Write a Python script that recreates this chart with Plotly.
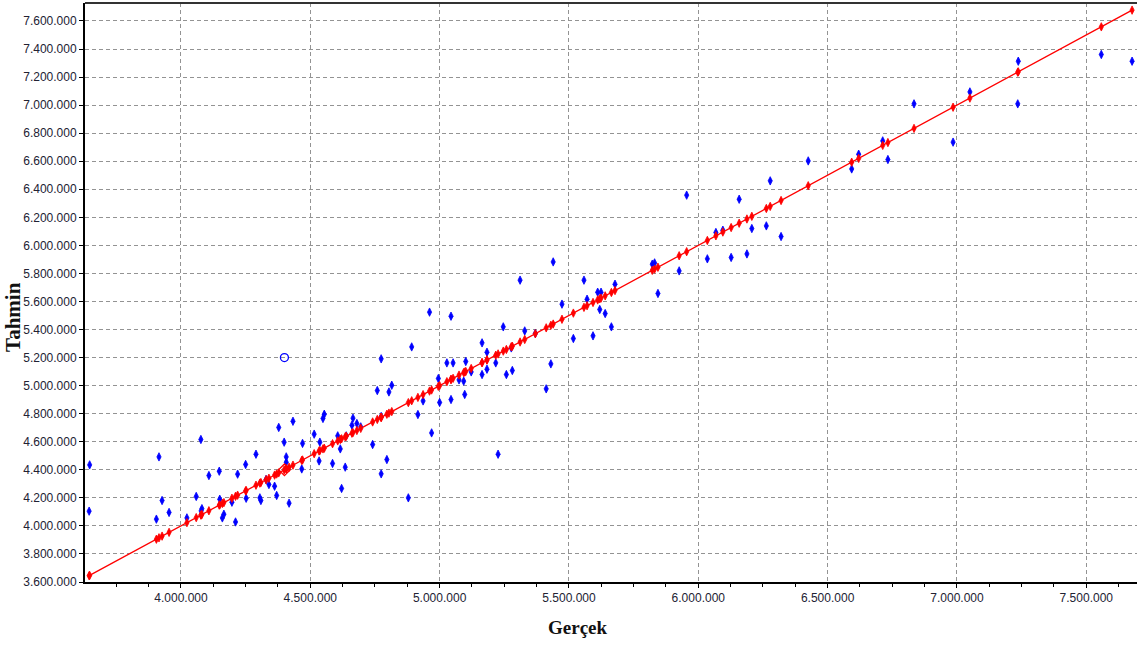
import plotly.graph_objects as go

# Gerçek (actual) and Tahmin (predicted) values, in thousands
gercek_bin = [
    3647, 3645, 3915, 3927, 3905, 3954, 4077, 4023, 4059, 4078,
    4081, 4108, 4148, 4150, 4160, 4166, 4197, 4211, 4219, 4250,
    4252, 4290, 4305, 4309, 4329, 4340, 4362, 4370, 4378, 4399,
    4407, 4407, 4418, 4433, 4467, 4470, 4515, 4534, 4537, 4549,
    4554,
    4586, 4606, 4616, 4635, 4621, 4639, 4665, 4661, 4680, 4695,
    4741, 4759, 4774, 4774, 4774, 4796, 4804, 4815, 4879, 4892,
    4916, 4936, 4961, 4969, 4995, 5000, 5028, 5044, 5052, 5044,
    5075, 5093, 5097, 5101, 5122, 5164, 5164, 5183, 5183, 5217,
    5226, 5246, 5258, 5281, 5277, 5329, 5370, 5412,
    5311, 5430, 5439, 5473, 5517, 5558, 5570, 5593, 5611, 5624,
    5619, 5640, 5664, 5678, 5822, 5831, 5844, 5926,
    5955, 6035, 6068, 6095, 6127, 6158, 6188, 6207, 6263, 6278,
    6320, 6425, 6593, 6620, 6713, 6733,
    6834, 6985, 7050, 7237, 7235, 7558, 7677,
]
tahmin_bin = [
    4435, 4105, 4492, 4181, 4048, 4096, 4616, 4057, 4210, 4107,
    4123, 4359, 4390, 4190, 4057, 4083, 4169, 4028, 4369, 4438,
    4197, 4511, 4200, 4181, 4331, 4295, 4283, 4217, 4702, 4597,
    4492, 4454, 4162, 4746, 4406, 4588, 4654, 4463, 4597, 4766,
    4796,
    4445, 4642, 4549, 4419, 4267, 4642, 4768, 4718, 4730, 4706,
    4580, 4965, 5191, 4780, 4371, 4473, 4955, 5003, 4200, 5276,
    4794, 4891, 5524, 4663, 5051, 4880, 5162, 5495, 5162, 4901,
    5041, 5032, 4937, 5172, 5098, 5305, 5079, 5238, 5117, 5162,
    4511, 5419, 5079, 5108, 5269, 5390, 5372, 4977,
    5752, 5155, 5882, 5581, 5336, 5752, 5616, 5355, 5666, 5666,
    5543, 5514, 5419, 5723, 5866, 5875, 5657, 5818,
    6358, 5904, 6092, 6108, 5914, 6329, 5939, 6120, 6139, 6460,
    6063, 6602, 6545, 6650, 6745, 6612,
    7009, 6736, 7094, 7313, 7009, 7361, 7313,
]

# highlighted observation
secili_gercek = 4400000
secili_tahmin = 5200000

gercek = [v * 1000 for v in gercek_bin]
tahmin = [v * 1000 for v in tahmin_bin]
ideal = sorted(gercek)

x_range = [3629000, 7696000]
y_range = [3600000, 7728000]

fig = go.Figure()

fig.add_trace(go.Scatter(
    x=gercek, y=tahmin, mode="markers",
    marker=dict(symbol="diamond-tall", size=6, color="#0000ff",
                line=dict(width=0.8, color="#0000ff")),
    showlegend=False, hoverinfo="x+y",
))

fig.add_trace(go.Scatter(
    x=ideal, y=ideal, mode="lines+markers",
    line=dict(color="#ff0000", width=1.3),
    marker=dict(symbol="diamond-tall", size=6, color="#ff0000",
                line=dict(width=0.8, color="#ff0000")),
    showlegend=False, hoverinfo="x+y",
))

fig.add_trace(go.Scatter(
    x=[secili_gercek], y=[secili_tahmin], mode="markers",
    marker=dict(symbol="circle-open", size=8, color="#0000ff", line=dict(width=1.3)),
    showlegend=False,
))
fig.add_trace(go.Scatter(
    x=[secili_gercek], y=[secili_gercek], mode="markers",
    marker=dict(symbol="diamond-open", size=9, color="#ff0000", line=dict(width=1.3)),
    showlegend=False,
))

tick_font = dict(family="Liberation Sans, Arial, sans-serif", size=12, color="#222233")
grid_col = "#939393"

fig.update_xaxes(
    range=x_range, dtick=500000, tick0=4000000, tickformat=",d",
    showgrid=True, gridcolor=grid_col, griddash="4px,3px", gridwidth=1,
    showline=True, linecolor="#000000", linewidth=2,
    ticks="outside", ticklen=4, tickcolor="#000000", tickwidth=1,
    minor=dict(dtick=125000, tick0=4000000, ticks="outside", ticklen=3,
               tickcolor="#000000", showgrid=False),
    tickfont=tick_font, zeroline=False,
)
fig.update_yaxes(
    range=y_range, dtick=200000, tick0=3600000, tickformat=",d",
    showgrid=True, gridcolor=grid_col, griddash="4px,3px", gridwidth=1,
    showline=True, linecolor="#000000", linewidth=2,
    ticks="outside", ticklen=4, tickcolor="#000000", tickwidth=1,
    tickfont=tick_font, zeroline=False,
)

title_font = dict(family="Liberation Serif, Times New Roman, serif", size=19, color="#111111")
title_font_y = dict(family="Liberation Serif, Times New Roman, serif", size=21, color="#111111")

fig.update_layout(
    width=1137, height=645,
    margin=dict(l=85, r=0, t=3, b=63),
    paper_bgcolor="#ffffff", plot_bgcolor="#ffffff",
    separators=",.",
    shapes=[dict(type="line", xref="paper", yref="paper", x0=0, x1=1, y0=1, y1=1,
                 line=dict(color="#333333", width=2))],
    annotations=[
        dict(text="<b>Gerçek</b>", xref="paper", yref="paper", x=0.4686, y=-0.0794,
             xanchor="center", yanchor="middle", showarrow=False, font=title_font),
        dict(text="<b>Tahmin</b>", xref="paper", yref="paper", x=-0.0685, y=0.4577,
             xanchor="center", yanchor="middle", showarrow=False, textangle=-90,
             font=title_font_y),
    ],
)

fig.write_html("out.html")
